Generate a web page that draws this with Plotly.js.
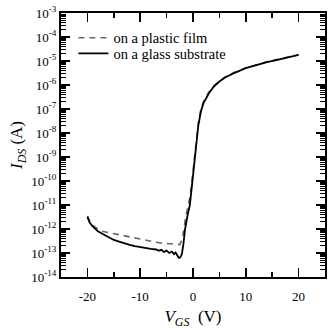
<!DOCTYPE html>
<html><head><meta charset="utf-8">
<script src="https://cdn.plot.ly/plotly-3.0.1.min.js"></script>
<style>html,body{margin:0;padding:0;background:#fff}#c{width:330px;height:332px}</style>
</head><body><div id="c"></div>
<script>
// Gate voltage (V)
var vgsGlass = [-20,-19.6,-19,-18,-17,-16,-15,-14,-13,-12,-11,-10,-9,-8,-7,-6.5,-6,-5.5,-5,-4.5,-4,-3.6,-3.3,-3.0,-2.7,-2.4,-2.1,-1.8,-1.5,-1.0,-0.6,-0.3,0,0.3,0.6,1.0,1.5,2,2.5,3,4,5,6,7,8,10,12,14,16,18,20];
var idsGlass = [3.2e-12,1.9e-12,1.3e-12,8.0e-13,6.0e-13,4.5e-13,3.5e-13,3.0e-13,2.5e-13,2.2e-13,1.95e-13,1.75e-13,1.6e-13,1.5e-13,1.4e-13,1.25e-13,1.35e-13,1.1e-13,1.25e-13,1.0e-13,1.15e-13,9.0e-14,1.05e-13,7.5e-14,6.3e-14,6.6e-14,9.0e-14,2.5e-13,1.0e-12,4.0e-12,1.0e-11,4.0e-11,1.6e-10,1.0e-9,4.5e-9,2.0e-8,8.0e-8,1.8e-7,2.8e-7,4.5e-7,8.9e-7,1.4e-6,2.0e-6,2.6e-6,3.3e-6,5.0e-6,6.9e-6,8.9e-6,1.12e-5,1.41e-5,1.78e-5];
var vgsPlastic = [-20,-19.5,-19,-18,-17,-16,-15,-14,-13,-12,-11,-10,-9,-8,-7,-6,-5,-4,-3,-2.5,-2.2,-2.0,-1.7,-1.4,-1.0,-0.6,-0.3,0,0.3,0.6,1.0,1.5,2,2.5,3,4,5,6,7,8,10,12,14,16,18,20];
var idsPlastic = [3.5e-12,2.0e-12,1.4e-12,1.0e-12,7.9e-13,7.1e-13,6.3e-13,5.6e-13,5.0e-13,4.5e-13,4.0e-13,3.6e-13,3.3e-13,3.0e-13,2.8e-13,2.6e-13,2.5e-13,2.35e-13,2.2e-13,2.25e-13,3.2e-13,4.5e-13,1.0e-12,3.2e-12,7.9e-12,2.0e-11,6.3e-11,2.5e-10,1.26e-9,5.0e-9,2.5e-8,1.0e-7,2.0e-7,3.2e-7,5.0e-7,9.5e-7,1.48e-6,2.1e-6,2.75e-6,3.5e-6,5.2e-6,7.2e-6,9.3e-6,1.17e-5,1.45e-5,1.82e-5];
var seriesNames = ['on a plastic film','on a glass substrate'];
var yExponents = [-3,-4,-5,-6,-7,-8,-9,-10,-11,-12,-13,-14];
var xTickVals = [-20,-10,0,10,20];

var yTickVals = yExponents.map(function(e){return Math.pow(10,e);});
var yTickText = yExponents.map(function(e){return '10<sup>'+e+'</sup>';});
var minorY = [];
yExponents.forEach(function(e){ if(e<-3){ for(var m=2;m<=9;m++) minorY.push(m*Math.pow(10,e)); } });

var font = {family:'"Liberation Serif", "Times New Roman", serif', size:13, color:'#000'};
var traces = [
  {x:vgsPlastic, y:idsPlastic, name:seriesNames[0], mode:'lines', legend:'legend',
   line:{color:'#666', width:1.6, dash:'6px,5px'}},
  {x:vgsGlass, y:idsGlass, name:seriesNames[1], mode:'lines', legend:'legend2',
   line:{color:'#000', width:1.8}}
];
var legFont = {family:font.family, size:14.5, color:'#000'};
var layout = {
  width:330, height:332,
  margin:{l:61, r:5, t:13, b:55},
  paper_bgcolor:'#fff', plot_bgcolor:'#fff',
  font:font, showlegend:true,
  legend:{x:0.047, y:0.906, xanchor:'left', yanchor:'middle', bgcolor:'rgba(0,0,0,0)', font:legFont, itemwidth:30},
  legend2:{x:0.047, y:0.847, xanchor:'left', yanchor:'middle', bgcolor:'rgba(0,0,0,0)', font:legFont, itemwidth:30},
  xaxis:{range:[-25,25], showgrid:false, zeroline:false, showline:true, linecolor:'#000', linewidth:2,
         mirror:'ticks', ticks:'inside', ticklen:9, tickwidth:1.5, tickcolor:'#000',
         tickmode:'array', tickvals:xTickVals, ticktext:xTickVals.map(String),
         minor:{tickmode:'array', tickvals:[-15,-5,5,15], ticks:'inside', ticklen:5, tickwidth:1.5, tickcolor:'#000', showgrid:false},
         tickfont:{family:font.family,size:13}, ticklabelstandoff:6,
         title:{text:'<i>V<sub>GS</sub></i>  (V)', font:{family:font.family,size:17}, standoff:8}},
  yaxis:{type:'log', range:[-14,-3], showgrid:false, zeroline:false, showline:true, linecolor:'#000', linewidth:2,
         mirror:'ticks', ticks:'inside', ticklen:9, tickwidth:1.5, tickcolor:'#000',
         tickmode:'array', tickvals:yTickVals, ticktext:yTickText,
         minor:{tickmode:'array', tickvals:minorY, ticks:'inside', ticklen:5, tickwidth:1, tickcolor:'#000', showgrid:false},
         tickfont:{family:font.family,size:13},
         title:{text:'<i>I<sub>DS</sub></i> (A)', font:{family:font.family,size:17}, standoff:4}}
};
Plotly.newPlot('c', traces, layout, {displayModeBar:false, staticPlot:true});
</script></body></html>
